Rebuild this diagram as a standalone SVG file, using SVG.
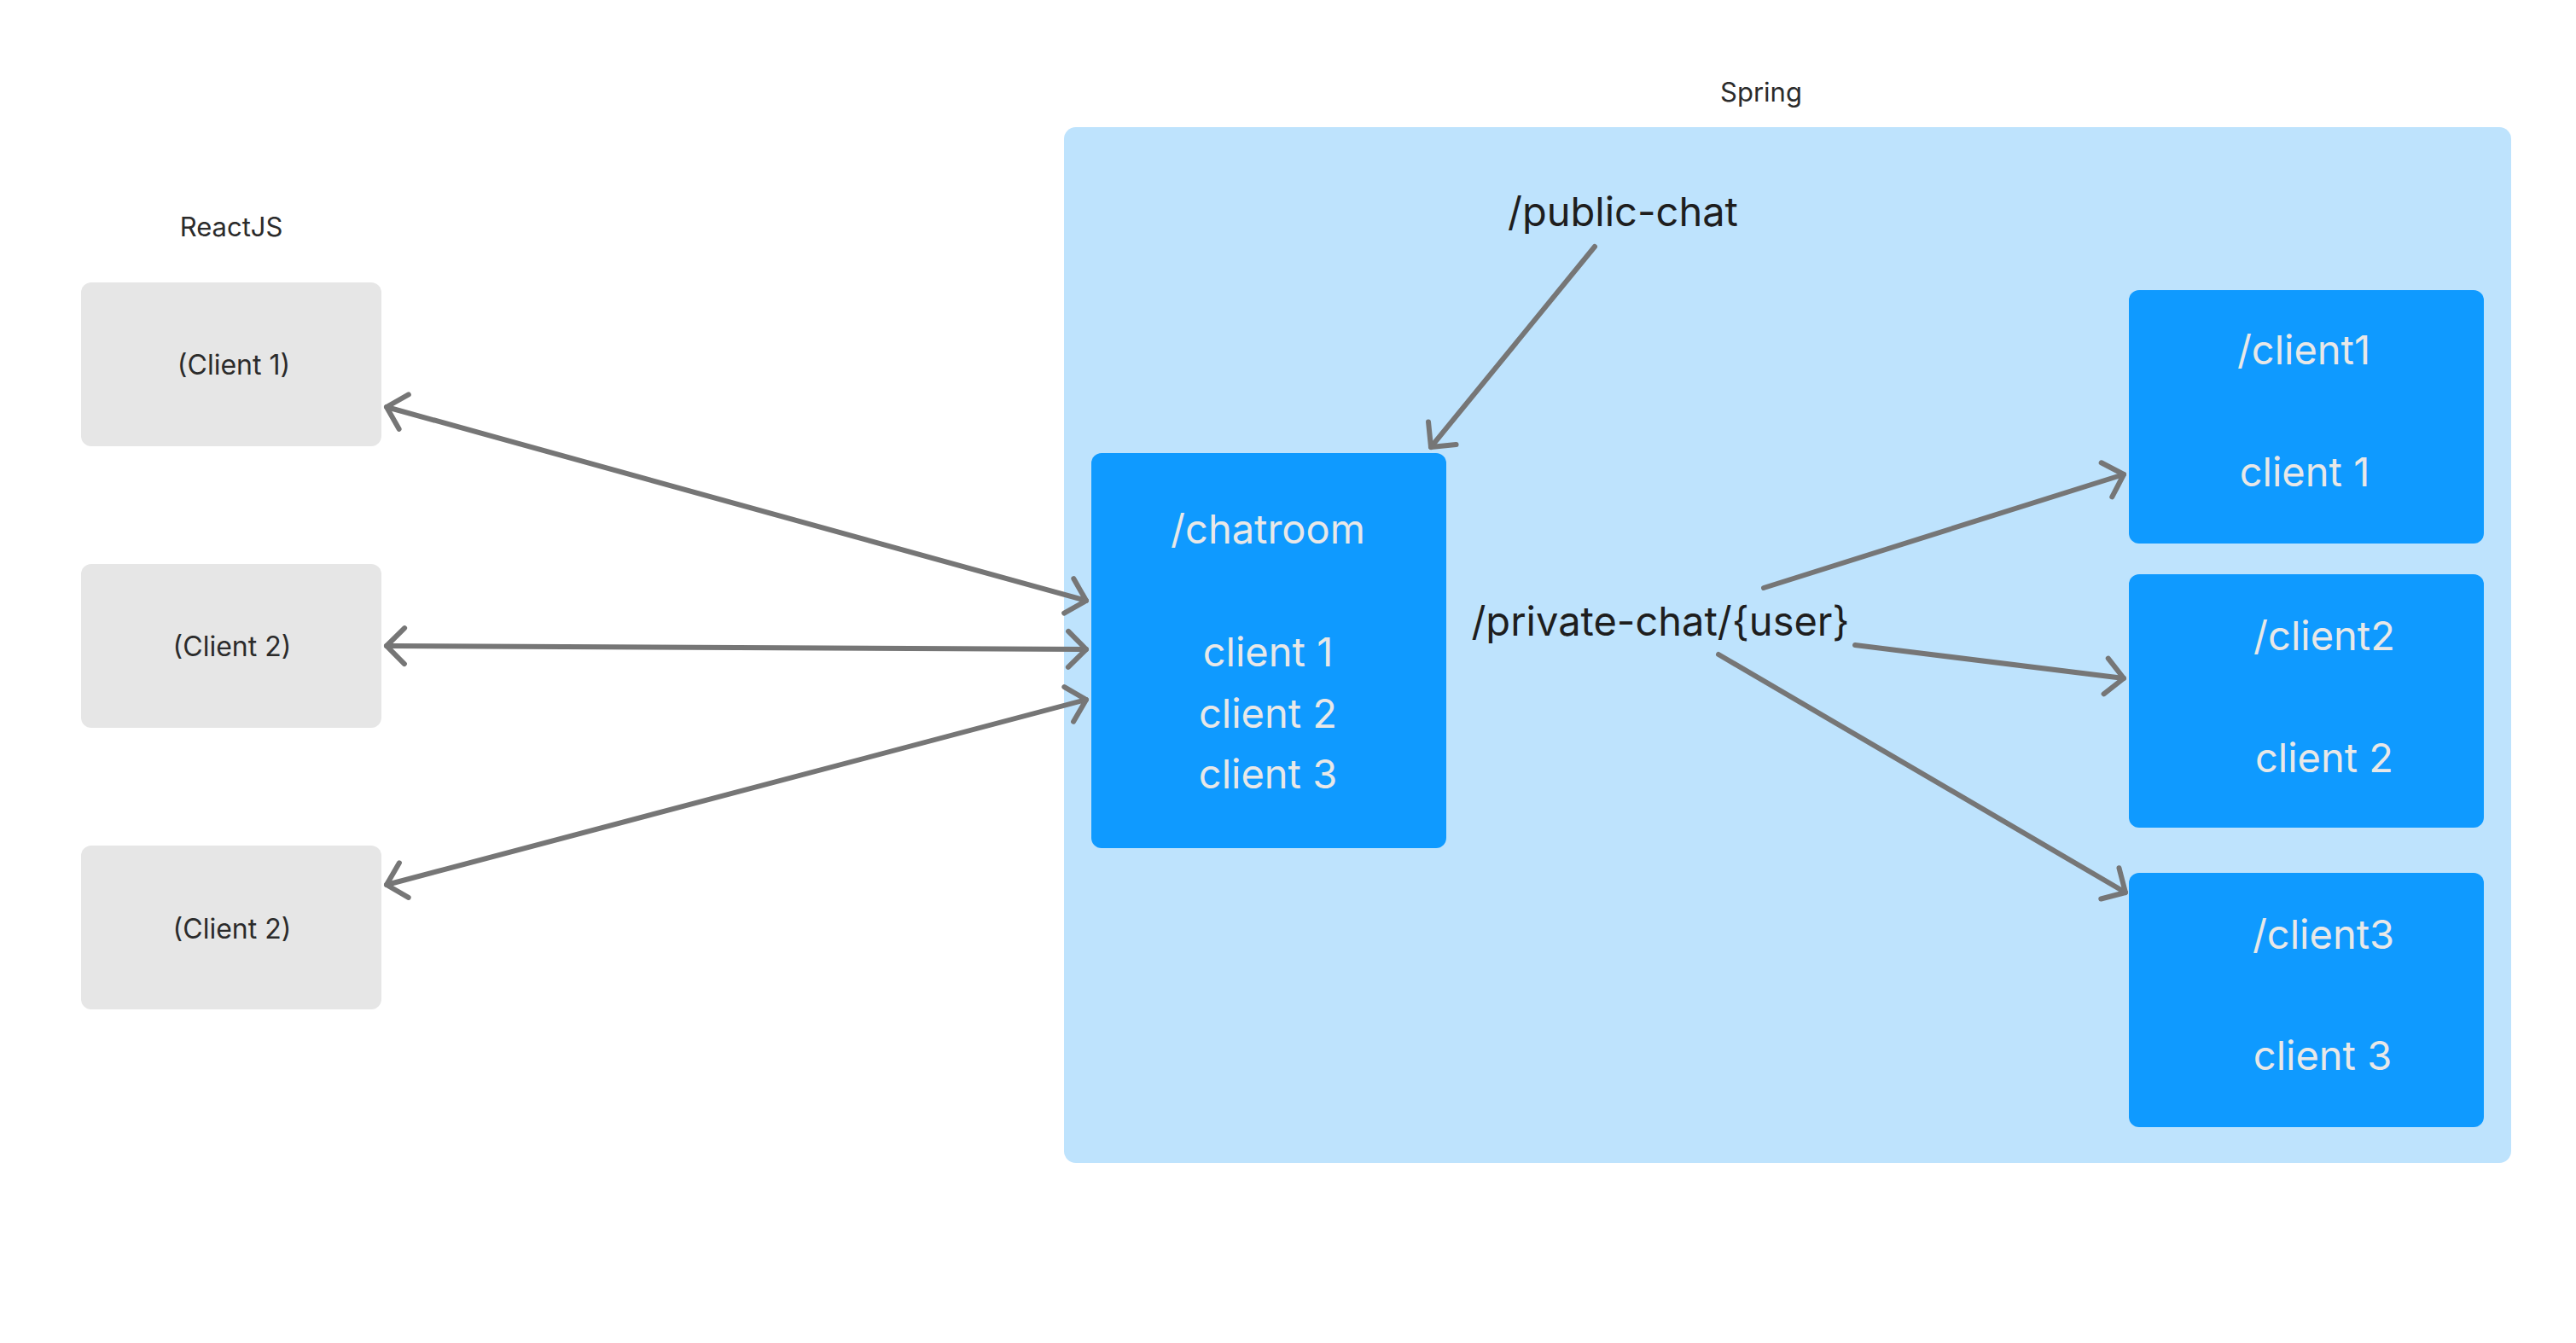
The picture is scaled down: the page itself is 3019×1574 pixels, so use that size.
<svg xmlns="http://www.w3.org/2000/svg" width="3019" height="1574" viewBox="0 0 3019 1574">
  <style>
    .lbl { font-family: Inter, "Liberation Sans", sans-serif; }
    .small { font-size: 31px; fill: #2b2b2b; text-anchor: middle; }
    .cl { font-size: 32px; }
    .big { font-size: 47px; text-anchor: middle; }
    .dark { fill: #1e1e1e; }
    .light { fill: #e8e8e8; }
    .client { fill: #e6e6e6; }
    .blue { fill: #0f9aff; }
    .conn { stroke: #767676; stroke-width: 6; stroke-linecap: round; fill: none; }
  </style>
  <defs>
    <marker id="ah" viewBox="-30 -30 40 60" markerWidth="40" markerHeight="60" refX="0" refY="0" orient="auto-start-reverse" markerUnits="userSpaceOnUse">
      <path d="M-21,-21 L0,0 L-21,21" fill="none" stroke="#767676" stroke-width="6" stroke-linecap="round" stroke-linejoin="round"/>
    </marker>
  </defs>
  <rect width="3019" height="1574" fill="#ffffff"/>

  <g id="spring">
    <rect x="1247" y="149" width="1696" height="1214" rx="14" fill="#bee3fd"/>
    <text class="lbl small" x="2064" y="119" fill="#1e1e1e">Spring</text>
  </g>

  <g id="reactjs-label">
    <text class="lbl small" x="271" y="277">ReactJS</text>
  </g>

  <g id="client-a">
    <rect class="client" x="95" y="331" width="352" height="192" rx="12"/>
    <text class="lbl small cl" x="274" y="439">(Client 1)</text>
  </g>
  <g id="client-b">
    <rect class="client" x="95" y="661" width="352" height="192" rx="12"/>
    <text class="lbl small cl" x="272" y="769">(Client 2)</text>
  </g>
  <g id="client-c">
    <rect class="client" x="95" y="991" width="352" height="192" rx="12"/>
    <text class="lbl small cl" x="272" y="1100">(Client 2)</text>
  </g>

  <g id="chatroom">
    <rect class="blue" x="1279" y="531" width="416" height="463" rx="12"/>
    <text class="lbl big light" x="1486" y="637">/chatroom</text>
    <text class="lbl big light" x="1486" y="781">client 1</text>
    <text class="lbl big light" x="1486" y="853">client 2</text>
    <text class="lbl big light" x="1486" y="924">client 3</text>
  </g>

  <g id="public-chat">
    <text class="lbl big dark" x="1902" y="265">/public-chat</text>
  </g>
  <g id="private-chat">
    <text class="lbl big dark" x="1946" y="745">/private-chat/{user}</text>
  </g>

  <g id="client1">
    <rect class="blue" x="2495" y="340" width="416" height="297" rx="12"/>
    <text class="lbl big light" x="2700" y="427">/client1</text>
    <text class="lbl big light" x="2701" y="570">client 1</text>
  </g>
  <g id="client2">
    <rect class="blue" x="2495" y="673" width="416" height="297" rx="12"/>
    <text class="lbl big light" x="2724" y="762">/client2</text>
    <text class="lbl big light" x="2724" y="905">client 2</text>
  </g>
  <g id="client3">
    <rect class="blue" x="2495" y="1023" width="416" height="298" rx="12"/>
    <text class="lbl big light" x="2723" y="1112">/client3</text>
    <text class="lbl big light" x="2722" y="1254">client 3</text>
  </g>

  <g id="connectors">
    <line class="conn" x1="453" y1="477" x2="1273" y2="704" marker-start="url(#ah)" marker-end="url(#ah)"/>
    <line class="conn" x1="453" y1="757" x2="1273" y2="761" marker-start="url(#ah)" marker-end="url(#ah)"/>
    <line class="conn" x1="453" y1="1037" x2="1273" y2="820" marker-start="url(#ah)" marker-end="url(#ah)"/>
    <line class="conn" x1="1869" y1="289" x2="1677" y2="524" marker-end="url(#ah)"/>
    <line class="conn" x1="2067" y1="689" x2="2489" y2="556" marker-end="url(#ah)"/>
    <line class="conn" x1="2174" y1="756" x2="2489" y2="795" marker-end="url(#ah)"/>
    <line class="conn" x1="2014" y1="767" x2="2491" y2="1046" marker-end="url(#ah)"/>
  </g>
</svg>
